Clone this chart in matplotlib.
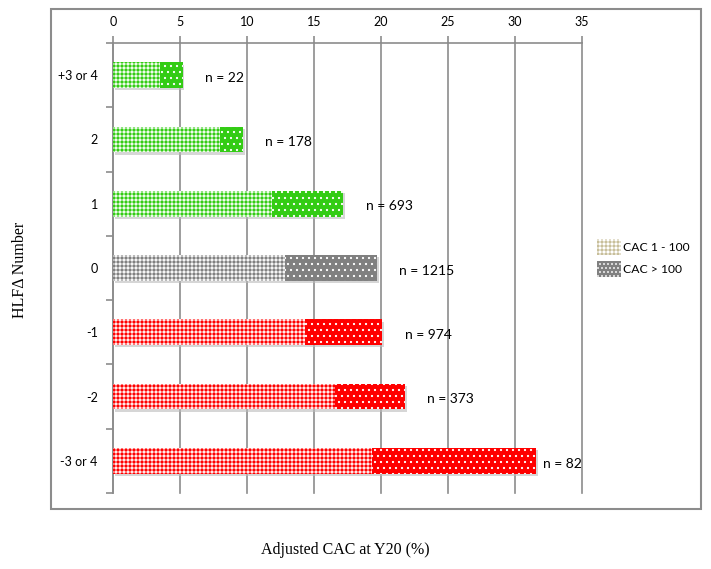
import numpy as np
import matplotlib.pyplot as plt
import matplotlib.patches as mpatches
from matplotlib.colors import to_rgb

categories = ["+3 or 4", "2", "1", "0", "-1", "-2", "-3 or 4"]
cac_1_100 = [3.5, 8.0, 11.9, 12.8, 14.3, 16.6, 19.3]
cac_total = [5.2, 9.7, 17.2, 19.7, 20.1, 21.8, 31.6]
n_labels = ["n = 22", "n = 178", "n = 693", "n = 1215", "n = 974", "n = 373", "n = 82"]
bar_colors = ["#33cc14", "#33cc14", "#33cc14", "#808080", "#ff0000", "#ff0000", "#ff0000"]

# drawn at 72 dpi so hatch lines land on whole pixels; k converts 100-dpi sizes
k = 100 / 72
plt.rcParams['hatch.linewidth'] = 1.0
plt.rcParams['font.family'] = ['Lato', 'DejaVu Sans']

fig = plt.figure(figsize=(711/72, 569/72), dpi=72)
# outer frame
fig.patches.append(mpatches.Rectangle((51/711, 1-509/569), 650/711, 500/569,
                   transform=fig.transFigure, fill=False, edgecolor="#8c8c8c", lw=1.5*k))
ax = fig.add_axes([113/711, 1-493/569, 469/711, 450/569])

def tint(c, f=0.08):
    r = np.array(to_rgb(c))
    return tuple(1 - f * (1 - r))

y = np.arange(len(categories))
upper = np.array(cac_total) - np.array(cac_1_100)
for i in range(len(categories)):
    c = bar_colors[i]
    # soft drop shadow
    ax.barh(y[i] + 0.035, cac_total[i], left=0.12, height=0.4, color="#bbbbbb",
            alpha=0.6, lw=0, zorder=2)
    ax.barh(y[i], cac_1_100[i], height=0.4, color=tint(c), edgecolor=c, lw=0,
            hatch="+++", zorder=3)
    ax.barh(y[i], upper[i], left=cac_1_100[i], height=0.4, color=c, edgecolor="white",
            lw=0, hatch="..", zorder=3)
    ax.annotate(n_labels[i], (cac_total[i], y[i]), xytext=((16 if i < 6 else 5)*k, -2*k),
                textcoords="offset points", va="center", ha="left", fontsize=10*k)

ax.set_xlim(0, 35)
ax.set_ylim(len(categories) - 0.5, -0.5)
ax.xaxis.tick_top()
ax.set_xticks(np.arange(0, 36, 5))
ax.grid(axis="x", color="#8c8c8c", lw=1.2*k)
ax.set_axisbelow(True)
for g in ax.get_xgridlines():
    g.set_clip_on(False)
ax.tick_params(axis="x", direction="out", length=5*k, color="#8c8c8c", width=1.2*k,
               labelsize=9*k, pad=6*k)
ax.set_yticks(y)
ax.set_yticklabels(categories)
ax.tick_params(axis="y", length=0, labelsize=9*k, pad=11*k)
ax.set_yticks(np.arange(-0.5, len(categories)), minor=True)
ax.tick_params(axis="y", which="minor", length=5*k, color="#8c8c8c", width=1.2*k)
for s in ["right", "bottom"]:
    ax.spines[s].set_visible(False)
for s in ["top", "left"]:
    ax.spines[s].set_color("#8c8c8c")
    ax.spines[s].set_linewidth(1.2*k)

fig.text(20/711, 1-270/569, "HLF\u0394 Number", rotation=90, ha="center", va="center",
         family="Liberation Serif", fontsize=11.5*k)
fig.text(345/711, 1-550/569, "Adjusted CAC at Y20 (%)", ha="center", va="center",
         family="Liberation Serif", fontsize=11.5*k)

h1 = mpatches.Patch(facecolor="white", edgecolor="#c8bf9a", lw=0, hatch="+++")
h2 = mpatches.Patch(facecolor="#808080", edgecolor="white", lw=0, hatch="...")
fig.legend([h1, h2], ["CAC 1 - 100", "CAC > 100"], loc="center left",
           bbox_to_anchor=(586/711, 1-258/569), frameon=False, fontsize=8.7*k,
           handlelength=2.0, handleheight=1.6, handletextpad=0.2, labelspacing=0.5)

fig.savefig("out.png", dpi=72)
